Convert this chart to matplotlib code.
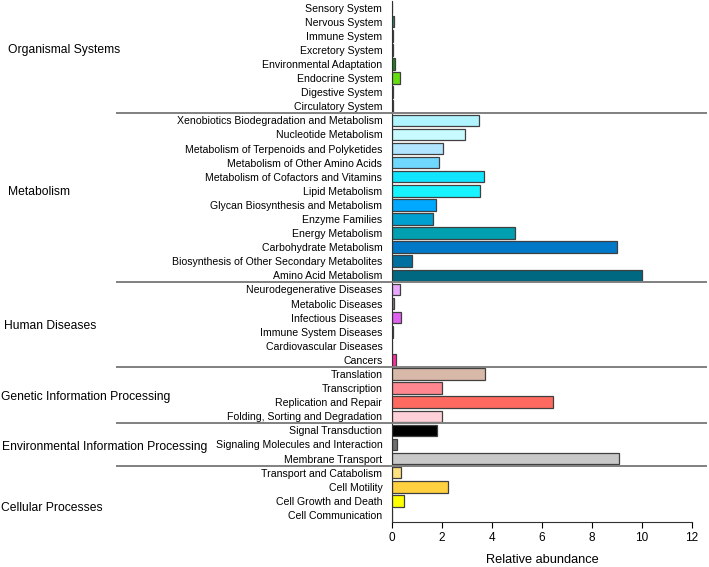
import matplotlib
matplotlib.use("Agg")
import matplotlib.pyplot as plt
from matplotlib.transforms import blended_transform_factory
from matplotlib.lines import Line2D

plt.rcParams['font.family'] = ['Liberation Sans', 'DejaVu Sans']

groups = ["Organismal Systems", "Metabolism", "Human Diseases",
          "Genetic Information Processing", "Environmental Information Processing",
          "Cellular Processes"]

organismal = ["Sensory System", "Nervous System", "Immune System", "Excretory System",
              "Environmental Adaptation", "Endocrine System", "Digestive System",
              "Circulatory System"]
organismal_vals = [0.01, 0.08, 0.05, 0.03, 0.13, 0.33, 0.05, 0.02]
organismal_cols = ["#2a8a6a", "#2a8a6a", "#1a6a1a", "#2a3a2a", "#1a8a1a", "#66dd11",
                   "#3a8a7a", "#203020"]

metabolism = ["Xenobiotics Biodegradation and Metabolism", "Nucleotide Metabolism",
              "Metabolism of Terpenoids and Polyketides", "Metabolism of Other Amino Acids",
              "Metabolism of Cofactors and Vitamins", "Lipid Metabolism",
              "Glycan Biosynthesis and Metabolism", "Enzyme Families", "Energy Metabolism",
              "Carbohydrate Metabolism", "Biosynthesis of Other Secondary Metabolites",
              "Amino Acid Metabolism"]
metabolism_vals = [3.47, 2.93, 2.05, 1.86, 3.66, 3.52, 1.74, 1.62, 4.93, 8.99, 0.80, 10.02]
metabolism_cols = ["#b0f4ff", "#c8fbff", "#b0e4ff", "#70d8ff", "#10e4ff", "#18f4ff",
                   "#00a8ff", "#00a0d0", "#00a0b0", "#0078c8", "#0070a0", "#006880"]

diseases = ["Neurodegenerative Diseases", "Metabolic Diseases", "Infectious Diseases",
            "Immune System Diseases", "Cardiovascular Diseases", "Cancers"]
diseases_vals = [0.32, 0.07, 0.35, 0.04, 0.01, 0.14]
diseases_cols = ["#e8a8ff", "#a08090", "#e060f0", "#701818", "#c04080", "#ff30a0"]

genetic = ["Translation", "Transcription", "Replication and Repair",
           "Folding, Sorting and Degradation"]
genetic_vals = [3.73, 1.98, 6.43, 1.99]
genetic_cols = ["#d8b8a8", "#ff8890", "#ff6a60", "#ffd0d8"]

environmental = ["Signal Transduction", "Signaling Molecules and Interaction",
                 "Membrane Transport"]
environmental_vals = [1.80, 0.18, 9.06]
environmental_cols = ["#000000", "#707070", "#c8c8c8"]

cellular = ["Transport and Catabolism", "Cell Motility", "Cell Growth and Death",
            "Cell Communication"]
cellular_vals = [0.36, 2.22, 0.46, 0.0]
cellular_cols = ["#ffe080", "#ffd040", "#ffff00", "#ffffff"]

x_ticks = [0, 2, 4, 6, 8, 10, 12]

all_groups = [organismal, metabolism, diseases, genetic, environmental, cellular]
all_vals = [organismal_vals, metabolism_vals, diseases_vals, genetic_vals,
            environmental_vals, cellular_vals]
all_cols = [organismal_cols, metabolism_cols, diseases_cols, genetic_cols,
            environmental_cols, cellular_cols]
label_offsets = [-0.5, -0.4, 0.1, 0.1, 0.2, 1.0]
label_x = [8, 8, 4, 1, 2, 1]

labels, vals, cols = [], [], []
for g, v, c in zip(all_groups, all_vals, all_cols):
    labels += g
    vals += v
    cols += c
n = len(labels)

fig = plt.figure(figsize=(7.09, 5.67), dpi=100)
ax = fig.add_axes([0.553, 0.0794, 0.423, 0.9196])
ypos = list(range(n))
ax.barh(ypos, vals, height=0.82, color=cols, edgecolor="#404040", linewidth=0.9)
ax.set_ylim(n - 0.5, -0.5)
ax.set_xlim(0, 12)
ax.set_yticks(ypos)
ax.set_yticklabels(labels, fontsize=7.6)
ax.tick_params(axis='y', length=0, pad=7)
ax.set_xticks(x_ticks)
ax.set_xticklabels([str(t) for t in x_ticks], fontsize=8.5)
ax.tick_params(axis='x', length=4, direction='out')
ax.set_xlabel("Relative abundance", fontsize=9.2, labelpad=7)
for s in ["top", "right"]:
    ax.spines[s].set_visible(False)
ax.spines["left"].set_color("#303030")
ax.spines["bottom"].set_color("#303030")

trans = blended_transform_factory(fig.transFigure, ax.transData)
start = 0
for gi, g in enumerate(all_groups):
    size = len(g)
    center = start + (size - 1) / 2 + label_offsets[gi]
    t = fig.text(label_x[gi] / 709, 0, groups[gi], transform=trans, fontsize=8.7,
                 va='center', ha='left')
    t.set_position((label_x[gi] / 709, center))
    end = start + size
    if gi < len(all_groups) - 1:
        ln = Line2D([117 / 709, 706 / 709], [end - 0.5, end - 0.5], transform=trans,
                    color="#808080", linewidth=1.4)
        fig.add_artist(ln)
    start = end

fig.savefig("out.png", dpi=100)
